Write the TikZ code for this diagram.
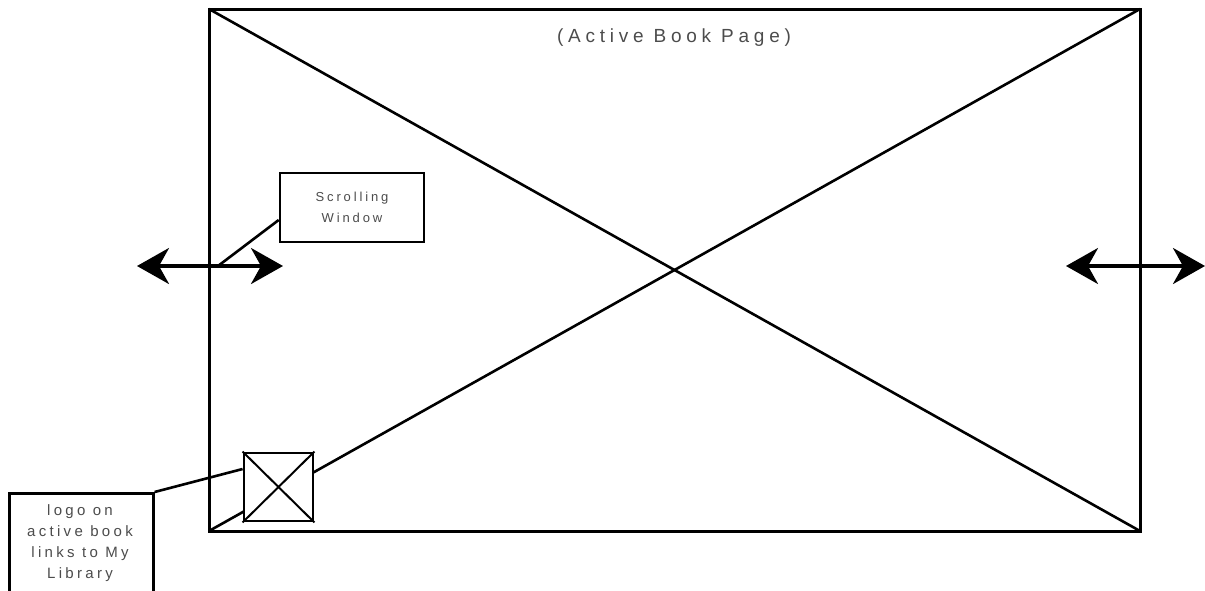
\documentclass[tikz,border=0pt]{standalone}
\usepackage{fontspec}
\setmainfont{Liberation Sans}
\newfontfamily\spaced[LetterSpace=22]{Liberation Sans}
\newfontfamily\spacedT[LetterSpace=25]{Liberation Sans}
\usetikzlibrary{arrows.meta}
\begin{document}
\begin{tikzpicture}[x=1pt,y=-1pt,
  frame/.style={draw=black,line width=3pt},
  diag/.style={draw=black,line width=2.6pt},
  lbl/.style={draw=black,line width=2.6pt,fill=white,inner sep=0pt,align=center,text=black!70},
  dblarrow/.style={line width=3.6pt,{Stealth[length=32pt,width=36pt,inset=10pt]}-{Stealth[length=32pt,width=36pt,inset=10pt]}},
  conn/.style={draw=black,line width=2.6pt}]
\useasboundingbox (0,0) rectangle (1205,590);
% page frame
\coordinate (tl) at (209,9);
\coordinate (tr) at (1140,9);
\coordinate (bl) at (209,531);
\coordinate (br) at (1140,531);
\draw[diag] (tl) -- (br);
\draw[diag] (bl) -- (tr);
% logo box
\node[draw=black,fill=white,line width=2.8pt,minimum width=69pt,minimum height=68pt,inner sep=0pt] (logo) at (278.5,487) {};
\draw[line width=2pt] (logo.north west) -- (logo.south east) (logo.south west) -- (logo.north east);
\draw[frame] (tl) rectangle (br);
\node[font=\spacedT\fontsize{19}{22}\selectfont,text=black!70] (title) at (674,38) {(Active Book Page)};
% arrows
\coordinate (la) at (137,266);
\coordinate (lb) at (283,266);
\coordinate (ra) at (1066,266);
\coordinate (rb) at (1205,266);
\draw[dblarrow] (la) -- (lb);
\draw[dblarrow] (ra) -- (rb);
% scrolling window label
\node[lbl,font=\spaced\fontsize{13}{21}\selectfont,minimum width=144pt,minimum height=69pt] (scroll) at (352,207.5) {Scrolling\\Window};
\coordinate (sc) at (218,266);
\draw[conn] (scroll.west |- 0,220) -- (sc);
% logo label
\node[lbl,minimum width=144pt,minimum height=110pt,anchor=north west] (logolbl) at (8,492) {};
\node[font=\spaced\fontsize{15}{21}\selectfont,text=black!70,align=center,anchor=north,inner sep=0pt] (logotext) at (80,504) {logo on\\active book\\links to My\\Library};
\draw[conn] (logolbl.north east) -- (logo.west |- 0,469);
\end{tikzpicture}
\end{document}
